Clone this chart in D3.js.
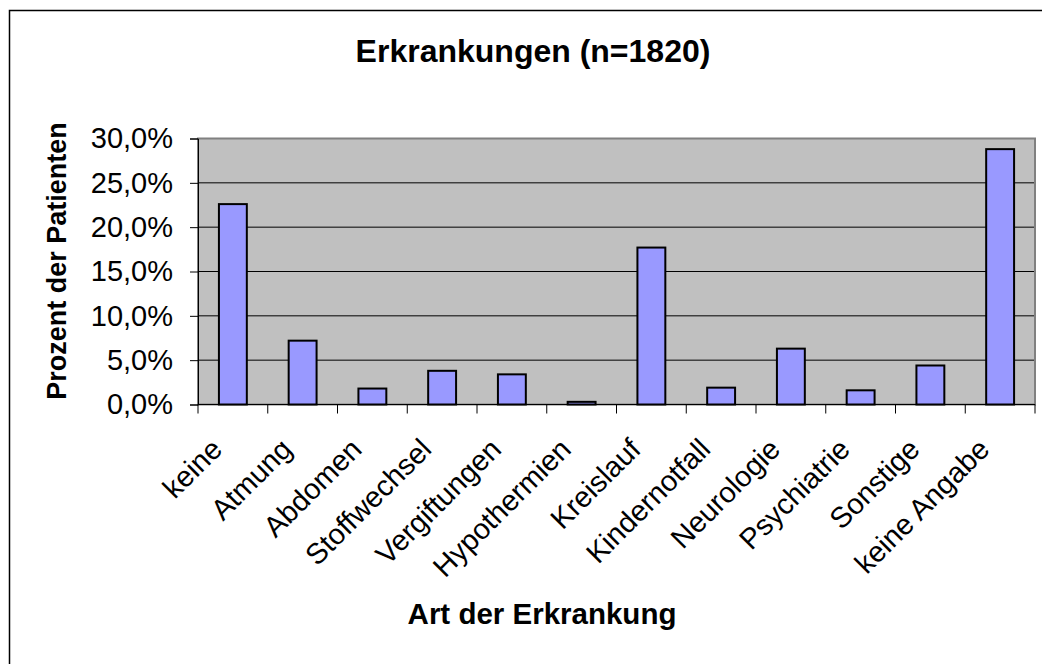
<html>
<head>
<script src="https://d3js.org/d3.v7.min.js"></script>
<style>
  body { margin: 0; background: #fff; }
  text { font-family: "Liberation Sans", Arial, sans-serif; }
</style>
</head>
<body>
<svg id="chart" width="1042" height="664"></svg>
<script>
// data
var categories = ["keine", "Atmung", "Abdomen", "Stoffwechsel", "Vergiftungen", "Hypothermien",
                  "Kreislauf", "Kindernotfall", "Neurologie", "Psychiatrie", "Sonstige", "keine Angabe"];
var percentValues = [22.6, 7.2, 1.8, 3.8, 3.4, 0.3, 17.7, 1.9, 6.3, 1.6, 4.4, 28.8];
var yTicks = [0, 5, 10, 15, 20, 25, 30];

var plotLeft = 198, plotRight = 1035, plotTop = 138.5, plotBottom = 404.5;

var svg = d3.select("#chart");

// outer chart frame (runs off the right and bottom edge)
svg.append("rect")
   .attr("x", 9.5).attr("y", 10.5)
   .attr("width", 1100).attr("height", 700)
   .attr("fill", "none").attr("stroke", "#000").attr("stroke-width", 1.5);

var xCat = d3.scaleBand().domain(categories).range([plotLeft, plotRight]).padding(0);
var xBar = d3.scaleBand().domain(categories).range([plotLeft, plotRight])
             .paddingInner(0.6).paddingOuter(0.3);
var y = d3.scaleLinear().domain([0, 30]).range([plotBottom, plotTop]);

// plot area background
svg.append("rect")
   .attr("x", plotLeft).attr("y", plotTop)
   .attr("width", plotRight - plotLeft).attr("height", plotBottom - plotTop)
   .attr("fill", "#c0c0c0");

// gridlines
svg.append("g")
   .selectAll("line")
   .data(yTicks.filter(function(d) { return d > 0 && d < 30; }))
   .join("line")
   .attr("x1", plotLeft).attr("x2", plotRight)
   .attr("y1", function(d) { return y(d); })
   .attr("y2", function(d) { return y(d); })
   .attr("stroke", "#000").attr("stroke-width", 1);

// border of plot area
svg.append("rect")
   .attr("x", plotLeft).attr("y", plotTop)
   .attr("width", plotRight - plotLeft).attr("height", plotBottom - plotTop)
   .attr("fill", "none").attr("stroke", "#808080").attr("stroke-width", 2);

// bars
svg.append("g")
   .selectAll("rect")
   .data(percentValues)
   .join("rect")
   .attr("x", function(d, i) { return xBar(categories[i]); })
   .attr("width", xBar.bandwidth())
   .attr("y", function(d) { return y(d); })
   .attr("height", function(d) { return y(0) - y(d); })
   .attr("fill", "#9999ff")
   .attr("stroke", "#000")
   .attr("stroke-width", 2);

// y axis
var yAxis = svg.append("g")
   .attr("transform", "translate(" + plotLeft + ",0)")
   .call(d3.axisLeft(y)
           .tickValues(yTicks)
           .tickSize(8)
           .tickPadding(17)
           .tickFormat(function(d) { return d.toFixed(1).replace(".", ",") + "%"; }));
yAxis.select(".domain").attr("stroke", "#000");
yAxis.selectAll(".tick text")
     .attr("font-size", "29px")
     .attr("font-family", "Liberation Sans, Arial, sans-serif")
     .attr("fill", "#000");

// x axis line and ticks at category boundaries
svg.append("line")
   .attr("x1", plotLeft).attr("x2", plotRight)
   .attr("y1", plotBottom).attr("y2", plotBottom)
   .attr("stroke", "#000").attr("stroke-width", 1);

var boundaries = categories.map(function(c) { return xCat(c); }).concat([plotRight]);
svg.append("g")
   .selectAll("line")
   .data(boundaries)
   .join("line")
   .attr("x1", function(d) { return d; })
   .attr("x2", function(d) { return d; })
   .attr("y1", plotBottom).attr("y2", plotBottom + 9)
   .attr("stroke", "#000").attr("stroke-width", 1);

// rotated category labels
svg.append("g")
   .selectAll("text")
   .data(categories)
   .join("text")
   .attr("transform", function(d) {
       return "translate(" + (xCat(d) + xCat.bandwidth() / 2 - 9) + ",451) rotate(-45)";
   })
   .attr("text-anchor", "end")
   .attr("font-size", "29px")
   .text(function(d) { return d; });

// titles
svg.append("text")
   .attr("x", 533).attr("y", 62)
   .attr("text-anchor", "middle")
   .attr("font-size", "32px")
   .attr("font-weight", "bold")
   .text("Erkrankungen (n=1820)");

svg.append("text")
   .attr("x", 542).attr("y", 624)
   .attr("text-anchor", "middle")
   .attr("font-size", "29.5px")
   .attr("font-weight", "bold")
   .text("Art der Erkrankung");

svg.append("text")
   .attr("transform", "translate(66,261) rotate(-90)")
   .attr("text-anchor", "middle")
   .attr("font-size", "27px")
   .attr("font-weight", "bold")
   .text("Prozent der Patienten");
</script>
</body>
</html>
